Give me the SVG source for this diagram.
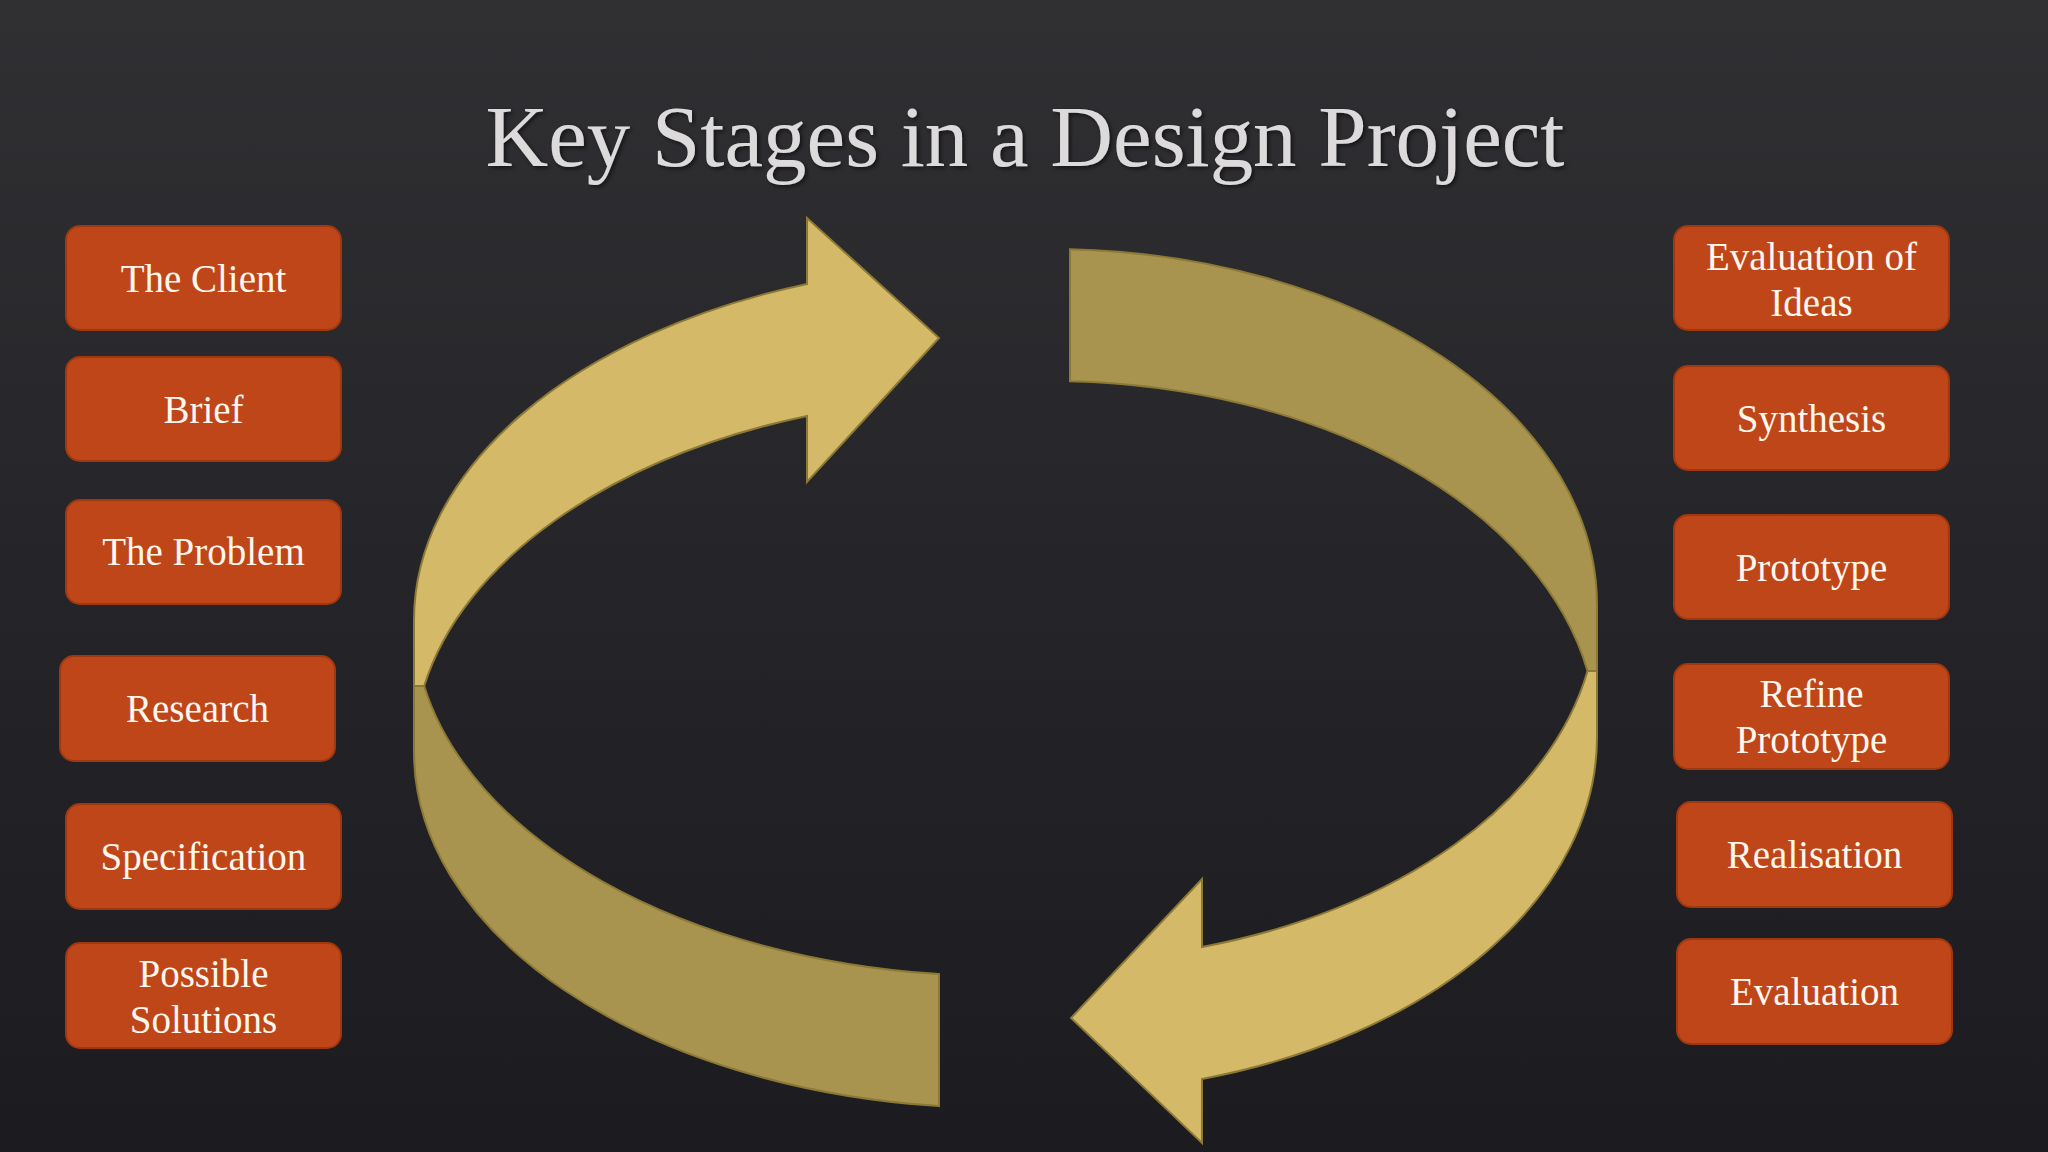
<svg xmlns="http://www.w3.org/2000/svg" width="2048" height="1152" viewBox="0 0 2048 1152">
  <defs>
    <linearGradient id="bg" x1="0" y1="0" x2="0" y2="1">
      <stop offset="0" stop-color="#303033"/>
      <stop offset="0.5" stop-color="#252428"/>
      <stop offset="1" stop-color="#1c1b20"/>
    </linearGradient>
    <filter id="shadow" x="-5%" y="-20%" width="110%" height="140%">
      <feDropShadow dx="2" dy="2" stdDeviation="2" flood-color="#000" flood-opacity="0.6"/>
    </filter>
    <style>
      .box { fill: #be4619; stroke: #a0380f; stroke-width: 2; }
      .lbl { font-family: "Liberation Serif", "Times New Roman", serif; font-size: 39px; fill: #fff7ee; text-anchor: middle; }
      .title { font-family: "Liberation Serif", "Times New Roman", serif; font-size: 86px; fill: #dcdadb; text-anchor: middle; }
      .light { fill: #d4b968; stroke: #8b7935; stroke-width: 2; stroke-linejoin: miter; }
      .dark { fill: #a8934f; stroke: #8b7935; stroke-width: 2; stroke-linejoin: miter; }
    </style>
  </defs>

  <rect x="0" y="0" width="2048" height="1152" fill="url(#bg)"/>

  <text class="title" x="1025" y="166" textLength="1079" lengthAdjust="spacingAndGlyphs" filter="url(#shadow)">Key Stages in a Design Project</text>

  <g id="cycle-arrows">
    <g id="arrow-left">
      <path class="dark" d="M 424.2 686 L 414 686 L 414 752 A 586 356 0 0 0 939 1106.1 L 939 974.1 A 586 356 0 0 1 424.2 686 Z"/>
      <path class="light" d="M 424.2 686 L 414 686 L 414 620 A 586 356 0 0 1 807 283.9 L 807 218 L 939 338 L 807 482 L 807 415.9 A 586 356 0 0 0 424.2 686 Z"/>
    </g>
    <g id="arrow-right">
      <path class="dark" d="M 1070 249.2 A 547 356 0 0 1 1597 605 L 1597 671 L 1587.5 671 A 547 356 0 0 0 1070 381.2 Z"/>
      <path class="light" d="M 1587.5 671 L 1597 671 L 1597 737 A 547 356 0 0 1 1202 1079 L 1202 1143 L 1071 1018 L 1202 879 L 1202 947 A 547 356 0 0 0 1587.5 671 Z"/>
    </g>
  </g>

  <g id="node-the-client">
    <rect class="box" x="66" y="226" width="275" height="104" rx="14"/>
    <text class="lbl" x="203.5" y="292">The Client</text>
  </g>
  <g id="node-brief">
    <rect class="box" x="66" y="357" width="275" height="104" rx="14"/>
    <text class="lbl" x="203.5" y="423">Brief</text>
  </g>
  <g id="node-the-problem">
    <rect class="box" x="66" y="500" width="275" height="104" rx="14"/>
    <text class="lbl" x="203.5" y="565">The Problem</text>
  </g>
  <g id="node-research">
    <rect class="box" x="60" y="656" width="275" height="105" rx="14"/>
    <text class="lbl" x="197.5" y="722">Research</text>
  </g>
  <g id="node-specification">
    <rect class="box" x="66" y="804" width="275" height="105" rx="14"/>
    <text class="lbl" x="203.5" y="870">Specification</text>
  </g>
  <g id="node-possible-solutions">
    <rect class="box" x="66" y="943" width="275" height="105" rx="14"/>
    <text class="lbl" x="203.5" y="987">Possible</text>
    <text class="lbl" x="203.5" y="1033">Solutions</text>
  </g>

  <g id="node-evaluation-of-ideas">
    <rect class="box" x="1674" y="226" width="275" height="104" rx="14"/>
    <text class="lbl" x="1811.5" y="270">Evaluation of</text>
    <text class="lbl" x="1811.5" y="316">Ideas</text>
  </g>
  <g id="node-synthesis">
    <rect class="box" x="1674" y="366" width="275" height="104" rx="14"/>
    <text class="lbl" x="1811.5" y="432">Synthesis</text>
  </g>
  <g id="node-prototype">
    <rect class="box" x="1674" y="515" width="275" height="104" rx="14"/>
    <text class="lbl" x="1811.5" y="581">Prototype</text>
  </g>
  <g id="node-refine-prototype">
    <rect class="box" x="1674" y="664" width="275" height="105" rx="14"/>
    <text class="lbl" x="1811.5" y="707">Refine</text>
    <text class="lbl" x="1811.5" y="753">Prototype</text>
  </g>
  <g id="node-realisation">
    <rect class="box" x="1677" y="802" width="275" height="105" rx="14"/>
    <text class="lbl" x="1814.5" y="868">Realisation</text>
  </g>
  <g id="node-evaluation">
    <rect class="box" x="1677" y="939" width="275" height="105" rx="14"/>
    <text class="lbl" x="1814.5" y="1005">Evaluation</text>
  </g>
</svg>
